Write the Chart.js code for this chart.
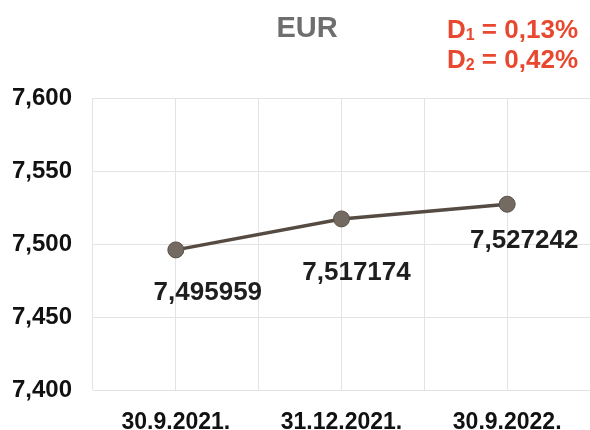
<!DOCTYPE html>
<html><head><meta charset="utf-8">
<script src="https://cdn.jsdelivr.net/npm/chart.js@4/dist/chart.umd.min.js"></script>
<style>
html,body{margin:0;padding:0;background:#fff;}
#wrap{position:relative;width:590px;height:430px;overflow:hidden;font-family:"Liberation Sans",Arial,sans-serif;}
#title{position:absolute;left:257px;width:100px;top:11px;text-align:center;font-size:29px;line-height:32px;font-weight:bold;color:#6e6e6e;}
#deltas{position:absolute;right:12px;top:14px;color:#e8482f;font-size:26px;font-weight:bold;line-height:30px;white-space:nowrap;}
#deltas sub{font-size:16px;vertical-align:-2px;line-height:0;}
canvas{position:absolute;left:0;top:0;}
</style></head>
<body><div id="wrap">
<canvas id="c" width="590" height="430"></canvas>
<div id="title">EUR</div>
<div id="deltas">D<sub>1</sub> = 0,13%<br>D<sub>2</sub> = 0,42%</div>
</div>
<script>
const categories = ["30.9.2021.", "31.12.2021.", "30.9.2022."];
const values = [7.495959, 7.517174, 7.527242];
const valueLabels = ["7,495959", "7,517174", "7,527242"];
const yTicks = [7.400, 7.450, 7.500, 7.550, 7.600];

const fmt = v => v.toFixed(3).replace('.', ',');
const labelOffsets = [[32, 43], [15, 54], [17, 37]];
const FONT = '"Liberation Sans", Arial, sans-serif';

const valueLabelPlugin = {
  id: 'valueLabels',
  afterDatasetsDraw(chart) {
    const ctx = chart.ctx;
    const meta = chart.getDatasetMeta(0);
    ctx.save();
    ctx.font = 'bold 26px ' + FONT;
    ctx.fillStyle = '#1e1e1e';
    ctx.textAlign = 'center';
    ctx.textBaseline = 'middle';
    meta.data.forEach((pt, i) => {
      ctx.fillText(valueLabels[i], pt.x + labelOffsets[i][0], pt.y + labelOffsets[i][1]);
    });
    ctx.restore();
  }
};

new Chart(document.getElementById('c'), {
  type: 'line',
  data: {
    labels: categories,
    datasets: [{
      data: values,
      borderColor: '#554b42',
      borderWidth: 3.5,
      backgroundColor: '#736a61',
      pointBackgroundColor: '#736a61',
      pointBorderColor: '#5a5047',
      pointBorderWidth: 1,
      pointRadius: 8,
      tension: 0,
      clip: false,
      xAxisID: 'x'
    }]
  },
  options: {
    responsive: false,
    animation: false,
    layout: { autoPadding: false, padding: { top: 98, right: 0, left: 8, bottom: 0 } },
    plugins: { legend: { display: false }, tooltip: { enabled: false }, title: { display: false } },
    scales: {
      x: {
        type: 'category',
        offset: true,
        grid: { color: '#e3e3e3', lineWidth: 1, offset: true, drawTicks: false },
        border: { display: false },
        ticks: { color: '#111', font: { size: 23, weight: 'bold', family: FONT, lineHeight: 1.0 }, padding: 21, maxRotation: 0 },
        afterFit: s => { s.height = 40; s.paddingLeft = 0; s.paddingRight = 0; }
      },
      x2: {
        type: 'category',
        labels: categories,
        offset: true,
        position: 'top',
        grid: { color: '#e3e3e3', lineWidth: 1, offset: false, drawTicks: false },
        border: { display: false },
        ticks: { display: false },
        afterFit: s => { s.height = 0; s.paddingLeft = 0; s.paddingRight = 0; }
      },
      y: {
        min: 7.4, max: 7.6,
        afterBuildTicks: s => { s.ticks = yTicks.map(v => ({ value: v })); },
        grid: { color: '#e3e3e3', lineWidth: 1, drawTicks: false },
        border: { display: false },
        ticks: { color: '#111', font: { size: 24, weight: 'bold', family: FONT }, padding: 21, callback: v => fmt(v) },
        afterFit: s => { s.width = 85; s.paddingTop = 0; s.paddingBottom = 0; }
      }
    }
  },
  plugins: [valueLabelPlugin]
});
</script>
</body></html>
